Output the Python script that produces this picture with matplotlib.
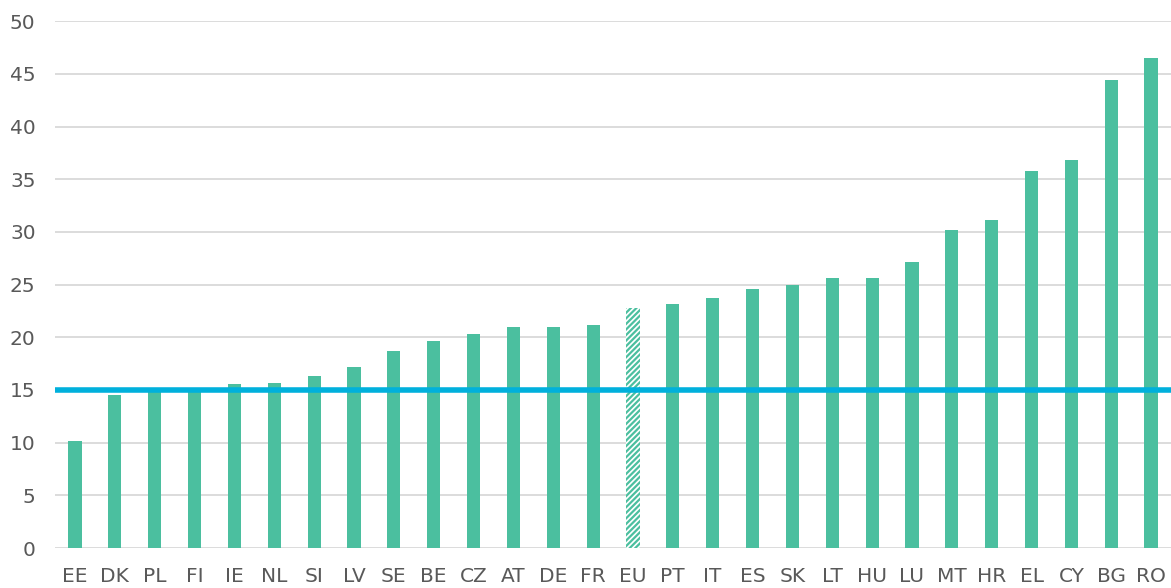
import matplotlib
matplotlib.use('Agg')
import matplotlib.pyplot as plt
import numpy as np

countries = ['EE', 'DK', 'PL', 'FI', 'IE', 'NL', 'SI', 'LV', 'SE', 'BE', 'CZ', 'AT', 'DE', 'FR',
             'EU', 'PT', 'IT', 'ES', 'SK', 'LT', 'HU', 'LU', 'MT', 'HR', 'EL', 'CY', 'BG', 'RO']
values = [10.2, 14.5, 14.9, 14.9, 15.6, 15.7, 16.3, 17.2, 18.7, 19.6, 20.3, 21.0, 21.0, 21.2,
          22.8, 23.2, 23.7, 24.6, 25.0, 25.6, 25.6, 27.1, 30.2, 31.1, 35.8, 36.8, 44.4, 46.5]
target = 15
yticks = list(range(0, 55, 5))

green = '#4BBF9F'
blue = '#00B0DC'
grey_text = '#595959'

plt.rcParams['hatch.linewidth'] = 1.6

fig = plt.figure(figsize=(11.71, 5.88), dpi=100)
ax = fig.add_axes([0.047, 0.068, 0.953, 0.896])

x = np.arange(len(countries))
for i, (c, v) in enumerate(zip(countries, values)):
    if c == 'EU':
        ax.bar(i, v, width=0.33, facecolor='white', edgecolor=green, hatch='//////',
               linewidth=0, zorder=2)
    else:
        ax.bar(i, v, width=0.33, color=green, zorder=2)

ax.axhline(target, color=blue, linewidth=4, zorder=3)

ax.set_xlim(-0.5, len(countries) - 0.5)
ax.set_ylim(0, 50)
ax.set_yticks(yticks)
ax.set_xticks(x)
ax.set_xticklabels(countries)
ax.yaxis.grid(True, color='#D9D9D9', linewidth=1.3, zorder=0)
ax.set_axisbelow(True)
for s in ax.spines.values():
    s.set_visible(False)
ax.tick_params(axis='both', length=0, labelsize=14.5, colors=grey_text)
ax.tick_params(axis='y', pad=14)
ax.tick_params(axis='x', pad=14)

fig.savefig('out.png', dpi=100)
